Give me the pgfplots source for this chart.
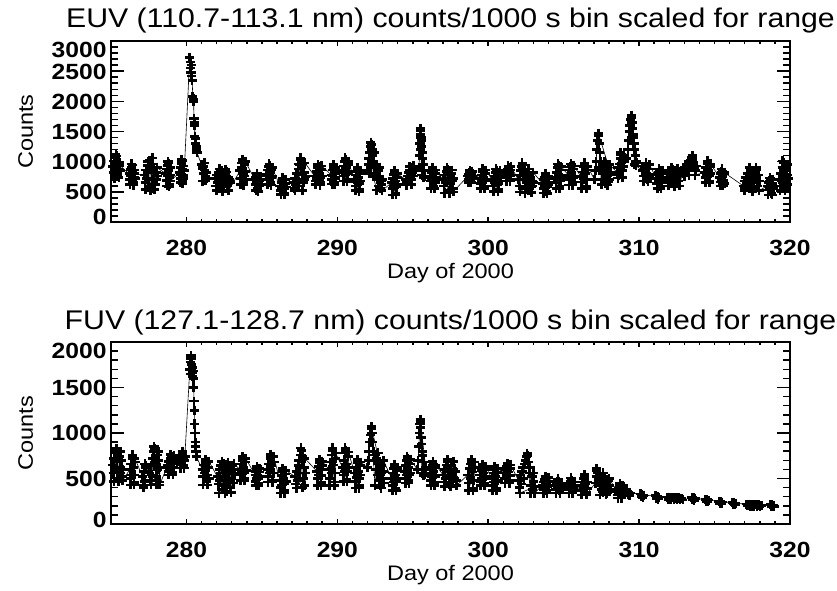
\documentclass[border=0pt]{standalone}
\usepackage{fontspec}
\setmainfont[FakeStretch=1.12]{Liberation Sans}
\usepackage{pgfplots}
\usepackage{pgfplotstable}
\pgfplotsset{compat=1.18}
\pgfplotstableread[row sep=\\]{
x y\\
275.10 920\\275.15 820\\275.20 1010\\275.25 890\\275.30 1060\\275.35 1095\\275.40 960\\275.45 770\\275.50 870\\275.55 990\\275.60 850\\275.22 720\\275.32 1120\\275.42 800\\275.52 740\\275.58 940\\
276.20 800\\276.24 700\\276.28 870\\276.32 760\\276.36 910\\276.40 945\\276.44 830\\276.48 650\\276.52 740\\276.56 860\\276.60 720\\276.26 620\\276.34 960\\276.42 680\\276.50 610\\276.58 800\\
277.20 780\\277.26 650\\277.32 860\\277.38 720\\277.44 940\\277.50 600\\277.56 1025\\277.62 880\\277.68 560\\277.74 960\\277.80 700\\277.86 900\\277.92 620\\277.98 820\\278.04 700\\278.10 760\\277.30 540\\277.45 1000\\277.60 520\\277.75 1060\\277.90 540\\278.05 900\\
278.65 800\\278.68 690\\278.71 880\\278.74 760\\278.77 940\\278.80 975\\278.83 850\\278.86 630\\278.89 740\\278.92 900\\278.95 780\\278.70 600\\278.78 1000\\278.85 590\\278.92 680\\
279.55 820\\279.58 720\\279.61 900\\279.64 790\\279.67 970\\279.70 1015\\279.73 880\\279.76 680\\279.79 770\\279.82 930\\279.85 850\\279.60 650\\279.68 1040\\279.75 640\\279.83 720\\
280.22 2730\\280.25 2650\\280.28 2550\\280.30 2480\\280.32 2600\\280.35 2420\\280.38 2350\\280.42 2080\\280.45 2000\\280.47 2040\\280.50 1720\\280.52 1650\\280.54 1600\\280.56 1420\\280.58 1380\\280.61 1300\\280.64 1250\\280.67 1200\\280.70 1150\\
281.00 950\\281.05 880\\281.10 920\\281.15 800\\281.20 860\\281.25 760\\281.30 820\\281.35 720\\281.08 680\\281.18 980\\281.28 690\\
281.90 720\\281.96 600\\282.02 780\\282.08 650\\282.14 820\\282.20 560\\282.26 700\\282.32 845\\282.38 620\\282.44 760\\282.50 580\\282.56 800\\282.62 680\\282.68 830\\282.74 600\\282.80 740\\282.86 700\\282.90 650\\282.00 520\\282.20 880\\282.40 510\\282.60 870\\282.80 520\\
283.55 850\\283.59 720\\283.63 900\\283.67 980\\283.71 1015\\283.75 800\\283.79 650\\283.83 760\\283.87 950\\283.91 840\\283.95 700\\283.60 620\\283.70 1040\\283.80 610\\283.90 1000\\
284.55 700\\284.58 620\\284.61 740\\284.64 660\\284.67 765\\284.70 720\\284.73 560\\284.76 640\\284.79 700\\284.82 600\\284.85 680\\284.60 520\\284.68 800\\284.75 510\\284.83 760\\
285.30 790\\285.34 700\\285.38 860\\285.42 760\\285.46 920\\285.50 935\\285.54 820\\285.58 650\\285.62 730\\285.66 870\\285.70 760\\285.36 620\\285.48 960\\285.60 610\\285.68 900\\
286.20 600\\286.24 520\\286.28 650\\286.32 560\\286.36 680\\286.40 695\\286.44 610\\286.48 480\\286.52 560\\286.56 640\\286.60 580\\286.26 460\\286.38 730\\286.50 450\\286.58 700\\
287.10 650\\287.15 560\\287.20 720\\287.25 620\\287.30 800\\287.35 700\\287.40 880\\287.45 600\\287.50 950\\287.55 1025\\287.60 900\\287.65 780\\287.70 960\\287.75 650\\287.80 820\\287.85 700\\287.90 750\\287.20 520\\287.40 960\\287.55 1060\\287.70 520\\287.85 980\\
288.50 760\\288.55 680\\288.60 840\\288.65 720\\288.70 900\\288.75 925\\288.80 800\\288.85 650\\288.90 740\\288.95 870\\289.00 760\\288.56 620\\288.72 950\\288.85 610\\288.97 930\\
289.60 780\\289.63 700\\289.66 860\\289.69 760\\289.72 915\\289.75 880\\289.78 660\\289.81 740\\289.84 840\\289.87 720\\289.90 800\\289.65 630\\289.73 950\\289.80 620\\289.88 900\\
290.35 850\\290.39 760\\290.43 930\\290.47 820\\290.51 1000\\290.55 1030\\290.59 900\\290.63 710\\290.67 800\\290.71 950\\290.75 840\\290.40 680\\290.52 1060\\290.64 670\\290.72 1000\\
291.15 700\\291.19 600\\291.23 780\\291.27 660\\291.31 840\\291.35 865\\291.39 740\\291.43 545\\291.47 640\\291.51 800\\291.55 680\\291.20 520\\291.32 900\\291.44 510\\291.52 850\\
292.00 850\\292.05 950\\292.10 1050\\292.15 1150\\292.20 1250\\292.25 1285\\292.30 1200\\292.35 1100\\292.40 1000\\292.45 1150\\292.50 900\\292.55 800\\292.60 950\\292.65 700\\292.70 850\\292.75 600\\292.80 750\\292.85 560\\292.90 680\\292.95 620\\293.00 700\\292.10 800\\292.22 1320\\292.40 750\\292.60 530\\292.80 900\\292.95 520\\
293.60 650\\293.64 560\\293.68 720\\293.72 600\\293.76 790\\293.80 815\\293.84 680\\293.88 480\\293.92 580\\293.96 740\\294.00 620\\293.65 450\\293.77 850\\293.88 450\\293.97 800\\
294.55 700\\294.60 650\\294.65 760\\294.70 700\\294.75 820\\294.80 860\\294.85 780\\294.90 700\\294.95 820\\295.00 895\\295.05 760\\295.10 850\\294.60 610\\294.78 920\\294.92 620\\295.05 930\\
295.40 900\\295.45 1100\\295.48 1300\\295.50 1450\\295.52 1515\\295.55 1400\\295.58 1350\\295.60 1250\\295.63 1150\\295.66 1050\\295.70 950\\295.75 850\\295.80 760\\295.50 1550\\295.52 1200\\295.60 780\\295.70 740\\
296.15 760\\296.19 680\\296.23 820\\296.27 720\\296.31 865\\296.35 840\\296.39 600\\296.43 700\\296.47 800\\296.51 650\\296.55 740\\296.20 560\\296.32 900\\296.44 560\\296.53 860\\
297.00 700\\297.06 600\\297.12 780\\297.18 650\\297.24 840\\297.30 865\\297.36 720\\297.42 520\\297.48 640\\297.54 800\\297.60 680\\297.66 560\\297.70 720\\297.10 480\\297.28 900\\297.45 480\\297.60 860\\297.68 500\\
298.65 760\\298.68 700\\298.71 790\\298.74 730\\298.77 815\\298.80 800\\298.83 680\\298.86 740\\298.89 790\\298.92 720\\298.95 760\\298.70 650\\298.78 850\\298.86 650\\298.93 840\\
299.45 720\\299.49 640\\299.53 780\\299.57 690\\299.61 830\\299.65 845\\299.69 740\\299.73 595\\299.77 680\\299.81 800\\299.85 700\\299.50 560\\299.62 880\\299.74 560\\299.83 860\\
300.30 690\\300.35 600\\300.40 760\\300.45 650\\300.50 820\\300.55 845\\300.60 720\\300.65 545\\300.70 640\\300.75 790\\300.80 680\\300.36 510\\300.52 880\\300.66 510\\300.78 850\\
301.15 800\\301.19 740\\301.23 850\\301.27 780\\301.31 880\\301.35 895\\301.39 820\\301.43 710\\301.47 770\\301.50 860\\301.20 680\\301.32 930\\301.44 680\\301.50 920\\
302.00 700\\302.05 600\\302.10 780\\302.15 850\\302.20 920\\302.25 945\\302.30 880\\302.35 700\\302.40 820\\302.45 560\\302.50 760\\302.55 650\\302.60 800\\302.65 520\\302.70 700\\302.75 620\\302.80 740\\302.85 580\\302.90 680\\302.95 600\\303.00 650\\302.10 500\\302.25 980\\302.45 480\\302.65 880\\302.85 490\\302.98 820\\
303.60 640\\303.64 560\\303.68 700\\303.72 600\\303.76 740\\303.80 765\\303.84 660\\303.88 510\\303.92 590\\303.96 720\\304.00 620\\303.65 480\\303.78 800\\303.90 470\\303.98 760\\
304.45 740\\304.49 650\\304.53 820\\304.57 700\\304.61 900\\304.65 930\\304.69 780\\304.73 600\\304.77 690\\304.81 860\\304.85 740\\304.50 560\\304.62 960\\304.74 560\\304.83 920\\
305.30 780\\305.34 700\\305.38 860\\305.42 750\\305.46 910\\305.50 930\\305.54 820\\305.58 650\\305.62 730\\305.66 880\\305.70 760\\305.35 610\\305.48 960\\305.60 610\\305.68 930\\
306.15 750\\306.20 660\\306.25 830\\306.30 710\\306.35 920\\306.40 945\\306.45 800\\306.50 600\\306.55 700\\306.60 860\\306.20 560\\306.38 980\\306.50 560\\306.58 920\\
307.05 700\\307.10 850\\307.15 1000\\307.20 1200\\307.25 1350\\307.30 1430\\307.35 1300\\307.40 1150\\307.45 1000\\307.50 900\\307.55 800\\307.60 950\\307.65 700\\307.70 880\\307.75 640\\307.80 820\\307.85 700\\307.90 900\\307.95 660\\308.00 780\\308.05 700\\308.10 820\\307.30 1470\\307.50 620\\307.70 1000\\307.90 610\\308.05 950\\
308.55 820\\308.60 900\\308.65 780\\308.70 960\\308.75 1050\\308.80 1115\\308.85 980\\308.90 850\\308.95 920\\309.00 1000\\308.60 730\\308.78 1150\\308.90 740\\309.00 1100\\
309.15 1050\\309.25 1200\\309.30 1350\\309.35 1500\\309.40 1600\\309.45 1700\\309.50 1730\\309.53 1650\\309.56 1550\\309.60 1450\\309.63 1400\\309.66 1300\\309.70 1200\\309.75 1100\\309.80 1000\\309.85 980\\309.50 1770\\309.60 1300\\309.70 950\\309.80 930\\
310.25 850\\310.30 760\\310.35 900\\310.40 800\\310.45 945\\310.50 920\\310.55 710\\310.60 790\\310.65 880\\310.70 750\\310.30 680\\310.45 980\\310.58 670\\310.68 950\\
311.15 720\\311.19 640\\311.23 790\\311.27 680\\311.31 830\\311.35 845\\311.39 740\\311.43 595\\311.47 670\\311.51 800\\311.55 700\\311.20 560\\311.32 880\\311.44 560\\311.53 850\\
311.90 740\\311.96 650\\312.02 800\\312.08 700\\312.14 850\\312.20 865\\312.26 760\\312.32 630\\312.38 700\\312.44 830\\312.50 720\\312.56 800\\312.62 680\\312.70 760\\311.95 600\\312.15 900\\312.35 590\\312.55 890\\312.68 600\\
312.90 850\\312.96 800\\313.02 900\\313.08 830\\313.14 950\\313.20 880\\313.26 1000\\313.32 900\\313.38 1030\\313.44 950\\313.50 1065\\313.56 1040\\313.62 980\\313.68 900\\313.74 850\\313.80 930\\313.00 760\\313.30 780\\313.52 1100\\313.70 780\\
314.35 820\\314.39 740\\314.43 900\\314.47 780\\314.51 960\\314.55 980\\314.59 850\\314.63 680\\314.67 760\\314.71 920\\314.75 800\\314.40 650\\314.53 1010\\314.65 650\\314.73 960\\
315.35 740\\315.38 660\\315.41 800\\315.44 700\\315.47 830\\315.50 845\\315.53 750\\315.56 630\\315.59 690\\315.62 800\\315.65 640\\315.40 600\\315.48 880\\315.57 600\\315.64 820\\
316.90 600\\316.96 680\\317.02 560\\317.08 740\\317.14 640\\317.20 800\\317.26 700\\317.32 620\\317.38 780\\317.44 560\\317.50 720\\317.56 840\\317.62 650\\317.68 760\\317.74 865\\317.80 700\\317.86 600\\317.92 780\\318.00 680\\317.00 520\\317.30 900\\317.50 510\\317.74 900\\317.95 520\\
318.50 600\\318.54 530\\318.58 650\\318.62 560\\318.66 680\\318.70 695\\318.74 600\\318.78 480\\318.82 560\\318.86 640\\318.90 560\\318.55 450\\318.68 730\\318.80 450\\318.88 700\\
319.30 700\\319.35 600\\319.40 800\\319.45 680\\319.50 900\\319.55 980\\319.60 850\\319.65 700\\319.70 560\\319.75 650\\319.80 780\\319.85 620\\319.90 720\\319.35 520\\319.52 1010\\319.68 520\\319.85 950\\
}\euvdata
\pgfplotstableread[row sep=\\]{
x y\\
275.10 650\\275.15 560\\275.20 720\\275.25 600\\275.30 780\\275.35 800\\275.40 680\\275.45 500\\275.50 590\\275.55 740\\275.60 620\\275.65 560\\275.70 700\\275.75 520\\275.80 600\\275.20 470\\275.35 830\\275.50 470\\275.65 800\\275.78 480\\
276.25 600\\276.29 500\\276.33 660\\276.37 540\\276.41 720\\276.45 740\\276.49 620\\276.53 455\\276.57 540\\276.60 680\\276.30 430\\276.42 760\\276.52 430\\276.58 720\\
277.10 520\\277.14 430\\277.18 580\\277.22 470\\277.26 620\\277.30 640\\277.15 400\\277.25 660\\
277.55 560\\277.60 480\\277.65 640\\277.70 540\\277.75 720\\277.80 800\\277.85 650\\277.90 830\\277.95 700\\278.00 520\\278.05 760\\278.10 600\\278.15 700\\278.20 460\\278.25 620\\277.65 430\\277.85 850\\278.00 440\\278.15 800\\278.22 430\\
278.75 640\\278.80 580\\278.85 690\\278.90 610\\278.95 720\\279.00 740\\279.05 660\\279.10 565\\279.15 620\\279.20 700\\278.80 540\\278.95 765\\279.10 540\\279.18 750\\
279.55 690\\279.59 650\\279.63 720\\279.67 670\\279.71 750\\279.75 775\\279.79 710\\279.83 640\\279.87 700\\279.90 740\\279.60 615\\279.72 800\\279.85 615\\
280.22 1700\\280.25 1780\\280.28 1650\\280.30 1820\\280.32 1700\\280.35 1750\\280.38 1660\\280.40 1720\\280.43 1680\\280.30 1850\\280.40 1620\\280.45 1600\\280.48 1500\\280.50 1350\\280.53 1250\\280.55 1100\\280.57 1000\\280.59 900\\280.61 850\\280.63 800\\280.66 740\\
281.05 600\\281.10 520\\281.15 650\\281.20 560\\281.25 685\\281.30 670\\281.35 470\\281.40 540\\281.45 620\\281.50 500\\281.10 430\\281.25 710\\281.40 430\\281.48 690\\
282.05 520\\282.11 440\\282.17 600\\282.23 480\\282.29 640\\282.35 380\\282.41 560\\282.47 660\\282.53 420\\282.59 580\\282.65 360\\282.71 620\\282.77 470\\282.83 550\\282.89 400\\282.95 600\\283.01 500\\283.07 640\\283.13 450\\283.20 560\\282.15 340\\282.35 690\\282.55 340\\282.75 680\\282.95 345\\283.15 660\\
283.55 600\\283.59 540\\283.63 660\\283.67 570\\283.71 700\\283.75 720\\283.79 620\\283.83 505\\283.87 560\\283.91 680\\283.95 590\\283.60 480\\283.72 745\\283.85 480\\283.93 720\\
284.55 540\\284.58 470\\284.61 580\\284.64 500\\284.67 600\\284.70 610\\284.73 530\\284.76 445\\284.79 500\\284.82 570\\284.85 520\\284.60 420\\284.68 635\\284.78 420\\284.84 610\\
285.35 600\\285.40 520\\285.45 660\\285.50 560\\285.55 720\\285.60 740\\285.65 640\\285.70 485\\285.75 560\\285.80 680\\285.40 460\\285.58 765\\285.70 460\\285.78 740\\
286.20 480\\286.24 400\\286.28 530\\286.32 430\\286.36 570\\286.40 590\\286.44 500\\286.48 365\\286.52 440\\286.56 550\\286.60 470\\286.25 340\\286.38 610\\286.50 340\\286.58 590\\
287.20 520\\287.25 440\\287.30 580\\287.35 480\\287.40 640\\287.45 700\\287.50 560\\287.55 760\\287.60 810\\287.65 680\\287.70 740\\287.75 500\\287.80 620\\287.85 420\\287.90 560\\287.30 395\\287.58 835\\287.70 400\\287.85 720\\
288.65 580\\288.69 500\\288.73 630\\288.77 540\\288.81 670\\288.85 685\\288.89 600\\288.93 455\\288.97 530\\289.00 640\\288.70 425\\288.82 710\\288.93 425\\288.98 690\\
289.45 600\\289.50 500\\289.55 680\\289.60 560\\289.65 760\\289.70 810\\289.75 650\\289.80 460\\289.85 560\\289.90 720\\289.50 425\\289.68 835\\289.80 425\\289.88 780\\
290.35 620\\290.39 540\\290.43 700\\290.47 580\\290.51 780\\290.55 810\\290.59 660\\290.63 495\\290.67 580\\290.71 740\\290.75 620\\290.40 470\\290.52 835\\290.64 470\\290.73 790\\
291.15 560\\291.19 470\\291.23 620\\291.27 510\\291.31 670\\291.35 685\\291.39 580\\291.43 420\\291.47 500\\291.51 640\\291.55 540\\291.20 395\\291.32 710\\291.44 395\\291.53 680\\
292.00 620\\292.05 700\\292.10 800\\292.15 900\\292.20 980\\292.25 1050\\292.30 1000\\292.35 900\\292.40 800\\292.45 700\\292.50 760\\292.55 600\\292.60 720\\292.65 540\\292.70 680\\292.75 480\\292.80 620\\292.85 420\\292.90 560\\292.95 640\\293.00 500\\293.05 580\\293.10 450\\292.25 1075\\292.50 420\\292.70 780\\292.90 395\\293.05 700\\
293.60 500\\293.64 420\\293.68 560\\293.72 460\\293.76 610\\293.80 630\\293.84 540\\293.88 395\\293.92 470\\293.96 590\\294.00 500\\293.65 370\\293.78 655\\293.90 370\\293.98 620\\
294.45 580\\294.49 500\\294.53 640\\294.57 540\\294.61 700\\294.65 720\\294.69 620\\294.73 475\\294.77 540\\294.81 660\\294.85 560\\294.50 450\\294.63 745\\294.74 450\\294.83 710\\
295.30 600\\295.35 700\\295.40 850\\295.45 1000\\295.48 1100\\295.50 1125\\295.52 1060\\295.55 950\\295.58 880\\295.62 800\\295.66 750\\295.70 680\\295.75 600\\295.80 550\\295.85 620\\295.50 1150\\295.60 560\\295.70 530\\
296.15 560\\296.19 480\\296.23 610\\296.27 520\\296.31 650\\296.35 660\\296.39 580\\296.43 455\\296.47 520\\296.51 620\\296.55 540\\296.20 425\\296.33 685\\296.45 425\\296.53 650\\
297.00 540\\297.06 460\\297.12 600\\297.18 500\\297.24 650\\297.30 685\\297.36 580\\297.42 440\\297.48 520\\297.54 640\\297.60 560\\297.66 470\\297.72 600\\297.78 500\\297.84 580\\297.90 480\\297.10 415\\297.30 710\\297.50 415\\297.70 690\\297.88 420\\
298.65 540\\298.70 450\\298.75 610\\298.80 500\\298.85 660\\298.90 685\\298.95 570\\299.00 395\\299.05 480\\299.10 620\\298.70 370\\298.88 710\\299.00 370\\299.08 680\\
299.45 540\\299.49 470\\299.53 590\\299.57 500\\299.61 620\\299.65 630\\299.69 560\\299.73 445\\299.77 500\\299.81 600\\299.85 520\\299.50 420\\299.63 655\\299.75 420\\299.83 630\\
300.25 500\\300.29 420\\300.33 560\\300.37 460\\300.41 600\\300.45 610\\300.49 520\\300.53 395\\300.57 460\\300.61 570\\300.65 480\\300.30 370\\300.43 635\\300.55 370\\300.63 610\\
301.05 560\\301.10 500\\301.15 600\\301.20 530\\301.25 630\\301.30 640\\301.35 570\\301.40 475\\301.45 530\\301.50 610\\301.10 450\\301.28 665\\301.40 450\\301.48 650\\
302.00 480\\302.06 400\\302.12 540\\302.18 440\\302.24 580\\302.30 620\\302.36 500\\302.42 660\\302.48 700\\302.54 740\\302.60 750\\302.66 680\\302.72 560\\302.78 620\\302.84 420\\302.90 520\\302.96 380\\303.02 470\\303.10 410\\302.10 340\\302.58 775\\302.80 340\\303.00 560\\303.08 340\\
303.60 430\\303.64 380\\303.68 460\\303.72 400\\303.76 490\\303.80 500\\303.84 440\\303.88 365\\303.92 410\\303.96 470\\304.00 420\\303.65 340\\303.78 525\\303.90 340\\303.98 510\\
304.45 420\\304.49 380\\304.53 450\\304.57 400\\304.61 465\\304.65 470\\304.69 430\\304.73 365\\304.77 400\\304.81 450\\304.85 410\\304.50 340\\304.63 495\\304.75 340\\
305.30 420\\305.34 380\\305.38 450\\305.42 400\\305.46 470\\305.50 480\\305.54 430\\305.58 365\\305.62 400\\305.66 460\\305.70 420\\305.35 340\\305.48 505\\305.60 340\\
306.15 420\\306.20 370\\306.25 460\\306.30 400\\306.35 500\\306.40 520\\306.45 440\\306.50 345\\306.55 390\\306.60 460\\306.20 320\\306.38 545\\306.50 320\\
307.10 450\\307.15 520\\307.20 590\\307.25 560\\307.30 480\\307.35 540\\307.40 420\\307.45 500\\307.50 380\\307.55 470\\307.60 350\\307.65 440\\307.70 520\\307.75 400\\307.80 460\\307.85 340\\307.90 420\\307.95 480\\308.00 360\\308.05 420\\308.10 380\\307.18 610\\307.40 320\\307.60 560\\307.80 320\\308.00 500\\
308.55 360\\308.59 320\\308.63 390\\308.67 340\\308.71 410\\308.75 420\\308.79 370\\308.83 305\\308.87 340\\308.91 390\\308.95 330\\308.60 285\\308.73 445\\308.85 285\\308.93 420\\
309.20 360\\309.25 320\\309.30 350\\309.35 310\\309.40 340\\
310.10 330\\310.15 300\\310.20 320\\310.25 290\\310.30 315\\
311.10 310\\311.15 280\\311.20 300\\311.25 275\\311.30 295\\
311.90 295\\311.95 270\\312.00 290\\312.10 265\\312.20 290\\312.30 270\\312.40 285\\312.50 265\\312.60 285\\312.70 270\\312.80 280\\312.90 265\\
313.50 290\\313.55 265\\313.60 285\\313.65 260\\313.70 280\\
314.40 270\\314.45 250\\314.50 268\\314.55 245\\314.60 262\\
315.30 250\\315.35 228\\315.40 245\\315.45 225\\315.50 240\\
316.20 238\\316.25 218\\316.30 232\\316.35 215\\316.40 228\\
317.10 218\\317.20 200\\317.30 215\\317.40 198\\317.50 212\\317.60 196\\317.70 210\\317.80 195\\317.90 208\\318.00 193\\318.10 205\\
318.70 212\\318.75 192\\318.80 208\\318.85 190\\318.90 205\\318.95 195\\
}\fuvdata
\pgfplotsset{
  idl/.style={
    scale only axis, width=679pt,
    xmin=275, xmax=320,
    xtick={280,290,300,310,320}, minor x tick num=9,
    minor y tick num=4,
    tick align=inside,
    xtick pos=both, ytick pos=both,
    axis line style={line width=2.6pt},
    tick style={black, line width=1.5pt},
    xtick style={/pgfplots/major tick length=5pt, /pgfplots/minor tick length=3pt},
    ytick style={/pgfplots/major tick length=13pt, /pgfplots/minor tick length=7pt},
    scaled ticks=false,
    /pgf/number format/assume math mode=true,
    /pgf/number format/1000 sep={},
    tick label style={font=\bfseries\fontsize{22}{24}\selectfont},
    xticklabel style={anchor=base, yshift=-33pt},
    yticklabel style={anchor=base east, yshift=-7.9pt, xshift=-1pt},
    every axis title/.style={at={(0.5,1)}, anchor=base, yshift=13pt, font=\fontsize{27}{30}\selectfont},
    every axis x label/.style={at={(axis description cs:0.5,0)}, anchor=base, yshift=-56pt, font=\fontsize{21}{24}\selectfont},
    every axis y label/.style={at={(axis description cs:-0.1149,0.5)}, rotate=90, anchor=base, font=\fontsize{21}{24}\selectfont},
    xlabel={Day of 2000}, ylabel={Counts},
  },
  dat/.style={black, line width=0.6pt, mark=+, mark size=4.6pt, mark options={line width=2.6pt}},
}
\begin{document}
\begin{tikzpicture}
\useasboundingbox (0pt,0pt) rectangle (837pt,590pt);
\clip (0pt,0pt) rectangle (837pt,590pt);
\begin{axis}[idl, at={(111pt,368pt)}, anchor=south west, height=181pt,
  ymin=0, ymax=3000, ytick={0,500,...,3000},
  yticklabels={\raisebox{5pt}{0},500,1000,1500,2000,2500,\raisebox{-9pt}{3000}},
  title={EUV (110.7-113.1 nm) counts/1000 s bin scaled for range}]
\addplot[dat] table[x=x, y=y] {\euvdata};
\end{axis}
\begin{axis}[idl, at={(111pt,66pt)}, anchor=south west, height=182pt,
  ymin=0, ymax=2000, ytick={0,500,...,2000},
  yticklabels={\raisebox{4pt}{0},500,1000,1500,\raisebox{-9pt}{2000}},
  title={FUV (127.1-128.7 nm) counts/1000 s bin scaled for range}]
\addplot[dat] table[x=x, y=y] {\fuvdata};
\end{axis}
\end{tikzpicture}
\end{document}
